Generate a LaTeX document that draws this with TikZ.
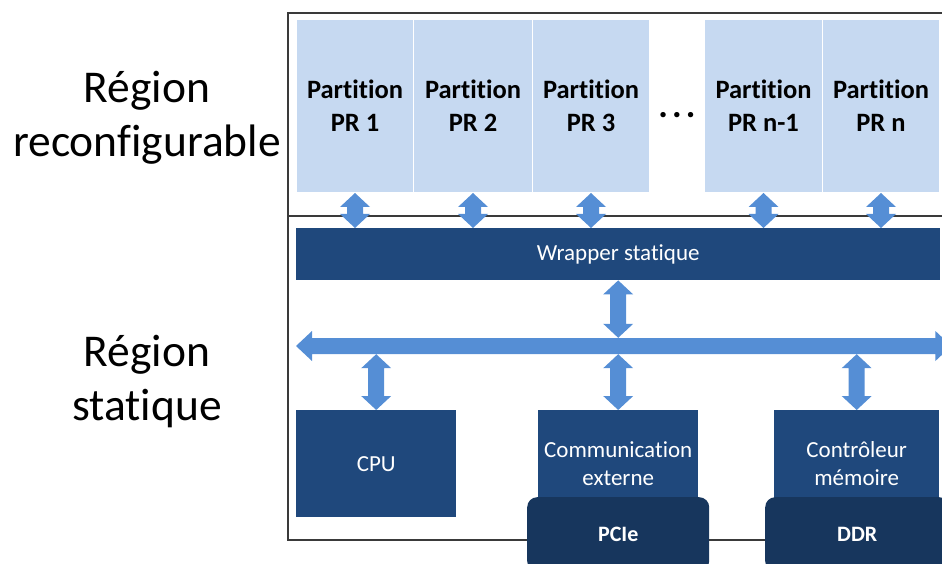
\documentclass[tikz,border=0pt]{standalone}
\usepackage{fontspec}
\setmainfont[Ligatures=NoCommon,RawFeature={-liga;-clig}]{Carlito}
\usetikzlibrary{calc}
\definecolor{lightpart}{HTML}{C6D9F1}
\definecolor{darkbox}{HTML}{1F487C}
\definecolor{darkerbox}{HTML}{17365D}
\definecolor{arrowc}{HTML}{558ED5}
\definecolor{framec}{HTML}{3A3A3A}
\newcommand\vdarrow[2]{\fill[arrowc] let \p1=#1, \p2=#2 in
 (\x1,\y1) -- ({\x1+15pt},{\y1-14pt}) -- ({\x1+8pt},{\y1-14pt}) -- ({\x1+8pt},{\y2+14pt}) -- ({\x1+15pt},{\y2+14pt}) -- (\x1,\y2) -- ({\x1-15pt},{\y2+14pt}) -- ({\x1-8pt},{\y2+14pt}) -- ({\x1-8pt},{\y1-14pt}) -- ({\x1-15pt},{\y1-14pt}) -- cycle;}
\newcommand\hdarrow[2]{\fill[arrowc] let \p1=#1, \p2=#2 in
 (\x1,\y1) -- ({\x1+16pt},{\y1+15pt}) -- ({\x1+16pt},{\y1+8pt}) -- ({\x2-16pt},{\y1+8pt}) -- ({\x2-16pt},{\y1+15pt}) -- (\x2,\y1) -- ({\x2-16pt},{\y1-15pt}) -- ({\x2-16pt},{\y1-8pt}) -- ({\x1+16pt},{\y1-8pt}) -- ({\x1+16pt},{\y1-15pt}) -- cycle;}
\tikzset{
  part/.style={fill=lightpart, draw=white, line width=1pt, anchor=north west, align=center, inner sep=0pt,
    font=\bfseries\fontsize{26.5}{33}\selectfont, minimum height=173pt},
  dark/.style={fill=darkbox, anchor=north west, align=center, inner sep=0pt, text=white,
    font=\fontsize{23}{28}\selectfont},
  darker/.style={fill=darkerbox, anchor=north west, align=center, inner sep=0pt, text=white, rounded corners=10pt,
    font=\bfseries\fontsize{22}{28}\selectfont},
  biglabel/.style={align=center, font=\fontsize{45.5}{54}\selectfont},
  frameline/.style={draw=framec, line width=1.2pt}
}
\begin{document}
\begin{tikzpicture}[x=1pt,y=-1pt]
\useasboundingbox (0,0) rectangle (942,564);
\clip (0,0) rectangle (942,564);
% frame
\draw[frameline] (960,13) -- (288,13) -- (288,540) -- (527,540);
\draw[frameline] (709,540) -- (765,540);
\draw[frameline] (288,216) -- (960,216);
% labels
\node[biglabel] (lr) at (147,118) {Région\\reconfigurable};
\node[biglabel] (ls) at (147,382) {Région\\statique};
% partitions
\node[part, minimum width=117pt] (p1) at (296,19) {Partition\\PR 1};
\node[part, minimum width=119pt] (p2) at (413,19) {Partition\\PR 2};
\node[part, minimum width=117pt] (p3) at (532,19) {Partition\\PR 3};
\node[font=\bfseries\fontsize{36}{36}\selectfont, inner sep=0pt] (dots) at (677,115) {.\hspace{4.2pt}.\hspace{4.2pt}.};
\node[part, minimum width=118pt] (pn1) at (704,19) {Partition\\PR n-1};
\node[part, minimum width=117pt] (pn) at (822,19) {Partition\\PR n};
% wrapper
\node[dark, minimum width=644pt, minimum height=52pt] (wrap) at (296,228) {Wrapper statique};
% lower boxes
\node[dark, minimum width=160pt, minimum height=107pt] (cpu) at (296,410) {CPU};
\node[dark, minimum width=160pt, minimum height=107pt] (comm) at (538,410) {Communication\\externe};
\node[dark, minimum width=165pt, minimum height=107pt] (ctrl) at (774,410) {Contrôleur\\mémoire};
\node[darker, minimum width=182pt, minimum height=74pt] (pcie) at (527,497) {PCIe};
\node[darker, minimum width=184pt, minimum height=74pt] (ddr) at (765,497) {DDR};
% bus
\node[inner sep=0pt, minimum width=655pt, minimum height=16pt, anchor=west] (bus) at (296,346) {};
\hdarrow{(bus.west)}{(bus.east)}
% arrows partitions <-> wrapper
\foreach \q in {p1,p2,p3,pn1,pn}{
  \vdarrow{(\q.south)}{(\q.south |- wrap.north)}
}
% wrapper <-> bus
\vdarrow{(wrap.south -| comm.north)}{(comm.north |- bus.north)}
% bus <-> lower boxes
\vdarrow{(cpu.north |- bus.south)}{(cpu.north)}
\vdarrow{(comm.north |- bus.south)}{(comm.north)}
\vdarrow{(ctrl.north |- bus.south)}{(ctrl.north)}
\end{tikzpicture}
\end{document}
